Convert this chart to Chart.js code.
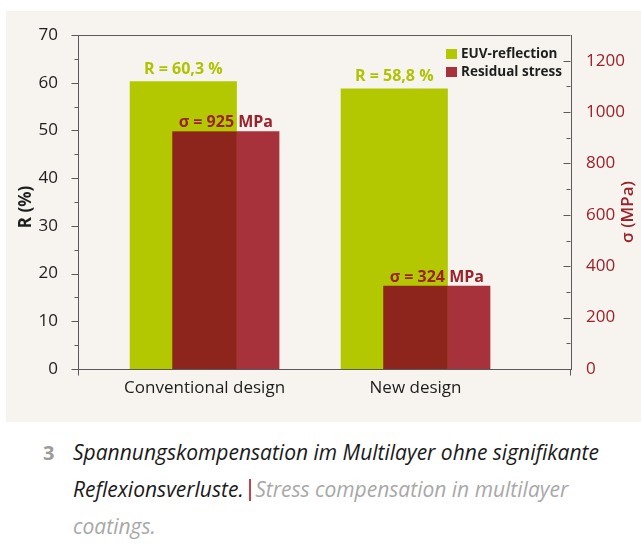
<!DOCTYPE html>
<html>
<head>
<meta charset="utf-8">
<script src="https://cdn.jsdelivr.net/npm/chart.js@4/dist/chart.umd.min.js"></script>
<style>
  html, body { margin: 0; padding: 0; width: 641px; height: 560px; overflow: hidden; background: #fff; }
  #panel { position: absolute; left: 6px; top: 11px; width: 635px; height: 411px; background: #f7f3ef; }
  #caption { position: absolute; left: 16px; top: 422px; width: 625px; height: 138px; background: #fff;
             font-family: "Open Sans", "DejaVu Sans", sans-serif; }
  #caption .num { position: absolute; left: 27px; top: 12px; font-size: 20px; line-height: 37px; font-weight: bold; color: #9b9b9b; }
  #caption p { position: absolute; left: 57px; top: 12px; margin: 0; font-size: 21px; line-height: 37px; font-style: italic;
               color: #1a1a1a; white-space: nowrap; }
  #caption .en { color: #a8a8a8; }
  #caption .sep { display: inline-block; width: 2px; height: 22px; background: #c4424a; vertical-align: -4px; margin-right: 4px; }
</style>
</head>
<body>
<div id="panel"><canvas id="chart"></canvas></div>
<div id="caption">
  <span class="num">3</span>
  <p>Spannungskompensation im Multilayer ohne signifikante<br>Reflexionsverluste. <span class="sep"></span><span class="en">Stress compensation in multilayer<br>coatings.</span></p>
</div>
<script>
// Categories and measured values
const categories = ['Conventional design', 'New design'];
const reflection = [60.3, 58.8];   // EUV reflectance R (%)
const stress = [925, 324];          // residual stress σ (MPa)
const seriesNames = ['EUV-reflection', 'Residual stress'];

// Axis tick values
const reflectionTicks = [0, 10, 20, 30, 40, 50, 60, 70];
const stressTicks = [0, 200, 400, 600, 800, 1000, 1200];

const GREEN = '#b3c800';
const RED = '#a8323b';
const OVERLAP = '#8d251c';
const GREEN_TEXT = '#afc300';
const RED_TEXT = '#9c2129';
const AXIS = '#5a5a5a';
const INK = '#1e1e1e';
const FONT = '"Open Sans", "DejaVu Sans", sans-serif';

const toPoints = vals => vals.map((v, i) => ({ x: i, y: v }));
const fmtR = v => 'R = ' + v.toFixed(1).replace('.', ',') + ' %';
const fmtS = v => 'σ = ' + v + ' MPa';

function crisp(v) { return Math.round(v) + 0.5; }

// Ticks, frame, axis titles, value labels and legend
const decor = {
  id: 'decor',
  afterDatasetsDraw(chart) {
    // darker tone where the two bars of a group overlap
    const { ctx } = chart;
    const g = chart.getDatasetMeta(0).data;
    const r = chart.getDatasetMeta(1).data;
    ctx.save();
    ctx.fillStyle = OVERLAP;
    g.forEach((gb, i) => {
      const rb = r[i];
      const left = Math.max(gb.x - gb.width / 2, rb.x - rb.width / 2);
      const right = Math.min(gb.x + gb.width / 2, rb.x + rb.width / 2);
      const top = Math.max(gb.y, rb.y);
      const bottom = Math.min(gb.base, rb.base);
      if (right > left && bottom > top) ctx.fillRect(left, top, right - left, bottom - top);
    });
    ctx.restore();
  },
  afterDraw(chart) {
    const { ctx, chartArea: ca } = chart;
    const ys = chart.scales.y, ys2 = chart.scales.y2;
    const L = crisp(ca.left), R = crisp(ca.right - 1), T = crisp(ca.top), B = crisp(ca.bottom);
    ctx.save();
    ctx.strokeStyle = AXIS;
    ctx.lineWidth = 1;
    ctx.beginPath();
    // top frame line
    ctx.moveTo(L, T); ctx.lineTo(R, T);
    // axes run a little past the baseline
    ctx.moveTo(L, B); ctx.lineTo(L, B + 6);
    ctx.moveTo(R, B); ctx.lineTo(R, B + 6);
    // left axis: outward ticks
    reflectionTicks.forEach((v, i) => {
      const y = crisp(ys.getPixelForValue(v));
      ctx.moveTo(L - 7, y); ctx.lineTo(L, y);
      if (i > 0) {
        const ym = crisp(ys.getPixelForValue((v + reflectionTicks[i - 1]) / 2));
        ctx.moveTo(L - 4, ym); ctx.lineTo(L, ym);
      }
    });
    // right axis: inward ticks
    stressTicks.forEach((v, i) => {
      const y = crisp(ys2.getPixelForValue(v));
      ctx.moveTo(R, y); ctx.lineTo(R - 7, y);
      if (i > 0) {
        const ym = crisp(ys2.getPixelForValue((v + stressTicks[i - 1]) / 2));
        ctx.moveTo(R, ym); ctx.lineTo(R - 4, ym);
      }
    });
    ctx.stroke();

    // axis titles
    const midY = (ca.top + ca.bottom) / 2;
    ctx.textAlign = 'center';
    ctx.textBaseline = 'middle';
    ctx.save();
    ctx.translate(ca.left - 52, midY + 5);
    ctx.rotate(-Math.PI / 2);
    ctx.fillStyle = INK;
    ctx.font = 'bold 17px ' + FONT;
    ctx.fillText('R (%)', 0, 0);
    ctx.restore();
    ctx.save();
    ctx.translate(ca.right + 57, midY + 10);
    ctx.rotate(-Math.PI / 2);
    ctx.fillStyle = RED_TEXT;
    ctx.font = '600 17px ' + FONT;
    ctx.fillText('σ (MPa)', 0, 0);
    ctx.restore();

    // value labels above the bars
    ctx.textBaseline = 'alphabetic';
    ctx.font = 'bold 16px ' + FONT;
    chart.getDatasetMeta(0).data.forEach((bar, i) => {
      ctx.fillStyle = GREEN_TEXT;
      ctx.fillText(fmtR(reflection[i]), bar.x, bar.y - 7);
    });
    chart.getDatasetMeta(1).data.forEach((bar, i) => {
      ctx.fillStyle = RED_TEXT;
      ctx.fillText(fmtS(stress[i]), bar.x, bar.y - 4);
    });

    // legend, top right inside the plot
    ctx.textAlign = 'left';
    ctx.textBaseline = 'middle';
    ctx.font = 'bold 13.5px ' + FONT;
    chart.data.datasets.forEach((ds, i) => {
      const x = ca.right - 125, y = ca.top + 14 + i * 18;
      ctx.fillStyle = ds.backgroundColor;
      ctx.fillRect(x, y, 11, 10);
      ctx.fillStyle = INK;
      ctx.fillText(ds.label, x + 15, y + 5.5);
    });
    ctx.restore();
  }
};

new Chart(document.getElementById('chart'), {
  type: 'bar',
  data: {
    datasets: [
      { label: seriesNames[0], data: toPoints(reflection), yAxisID: 'y', backgroundColor: GREEN },
      { label: seriesNames[1], data: toPoints(stress), yAxisID: 'y2', backgroundColor: RED }
    ]
  },
  options: {
    responsive: true,
    maintainAspectRatio: false,
    animation: false,
    layout: { padding: { top: 24, left: 0, right: 0, bottom: 0 } },
    datasets: { bar: { categoryPercentage: 0.403, barPercentage: 2.52, grouped: true, borderWidth: 0 } },
    plugins: { legend: { display: false }, tooltip: { enabled: false } },
    scales: {
      x: {
        type: 'linear', position: 'bottom', min: -0.6, max: 1.737, offset: false,
        grid: { display: false },
        border: { display: true, color: AXIS, width: 1 },
        afterBuildTicks: s => { s.ticks = categories.map((c, i) => ({ value: i })); },
        ticks: { callback: (v, i) => categories[i], font: { family: FONT, size: 17 }, color: INK,
                 padding: 1, maxRotation: 0, autoSkip: false },
        afterFit: s => { s.height = 53; }
      },
      y: {
        type: 'linear', position: 'left', min: 0, max: 70,
        grid: { display: false },
        border: { display: true, color: AXIS, width: 1 },
        afterBuildTicks: s => { s.ticks = reflectionTicks.map(v => ({ value: v })); },
        ticks: { callback: v => String(v), font: { family: FONT, size: 17 }, color: INK, padding: 12 },
        afterFit: s => { s.width = 72; }
      },
      y2: {
        type: 'linear', position: 'right', min: 0, max: 1300,
        grid: { display: false },
        border: { display: true, color: AXIS, width: 1 },
        afterBuildTicks: s => { s.ticks = stressTicks.map(v => ({ value: v })); },
        ticks: { callback: v => String(v), font: { family: FONT, size: 17 }, color: RED_TEXT, padding: 7 },
        afterFit: s => { s.width = 70; }
      }
    }
  },
  plugins: [decor]
});
</script>
</body>
</html>
